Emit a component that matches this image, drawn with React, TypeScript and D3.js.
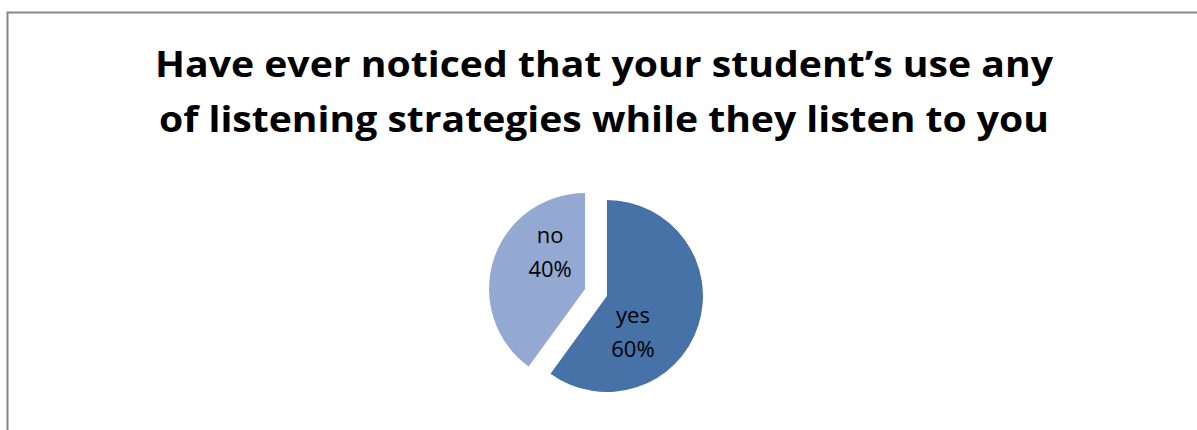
import React from "react";
import * as d3 from "d3";

const categories = ["yes", "no"];
const values = [60, 40];
const percentLabels = ["60%", "40%"];
const colors = ["#4672A8", "#94A9D2"];
const titleLines = [
  "Have ever noticed that your student\u2019s use any",
  "of listening strategies while they listen to you",
];

const W = 1197;
const H = 430;
const cx = 596;
const cy = 292.5;
const R = 96;
const explode = 11.5;
const titleWidths = [898, 890];
// label nudges relative to the exploded slice centre (first baseline)
const labelNudge: [number, number][] = [
  [26, 27],
  [-35, -46],
];

export default function App() {
  const pie = d3
    .pie<number>()
    .sort(null)
    .startAngle(0)
    .endAngle(2 * Math.PI)
    .value((d) => d);
  const arcs = pie(values);
  const arc = d3.arc<d3.PieArcDatum<number>>().innerRadius(0).outerRadius(R);

  return (
    <svg
      width={W}
      height={H}
      style={{ position: "absolute", left: 0, top: 0, display: "block", background: "#fff" }}
    >
      <rect x={7.5} y={12.5} width={1400} height={600} fill="#fff" stroke="#868686" strokeWidth={2} />
      {titleLines.map((t, i) => (
        <text
          key={i}
          x={604}
          y={77 + i * 55}
          textAnchor="middle"
          fontFamily="'Open Sans', sans-serif"
          fontWeight="bold"
          fontSize={35}
          textLength={titleWidths[i]}
          lengthAdjust="spacingAndGlyphs"
          fill="#000"
        >
          {t}
        </text>
      ))}
      {arcs.map((a, i) => {
        const mid = (a.startAngle + a.endAngle) / 2;
        const ox = cx + Math.sin(mid) * explode;
        const oy = cy - Math.cos(mid) * explode;
        const lx = ox + labelNudge[i][0];
        const ly = oy + labelNudge[i][1];
        return (
          <g key={categories[i]}>
            <path d={arc(a) || ""} transform={`translate(${ox},${oy})`} fill={colors[i]} />
            <text
              textAnchor="middle"
              fontFamily="'Open Sans', sans-serif"
              fontSize={22}
              fill="#000"
            >
              <tspan x={lx} y={ly}>{categories[i]}</tspan>
              <tspan x={lx} y={ly + 34}>{percentLabels[i]}</tspan>
            </text>
          </g>
        );
      })}
    </svg>
  );
}
